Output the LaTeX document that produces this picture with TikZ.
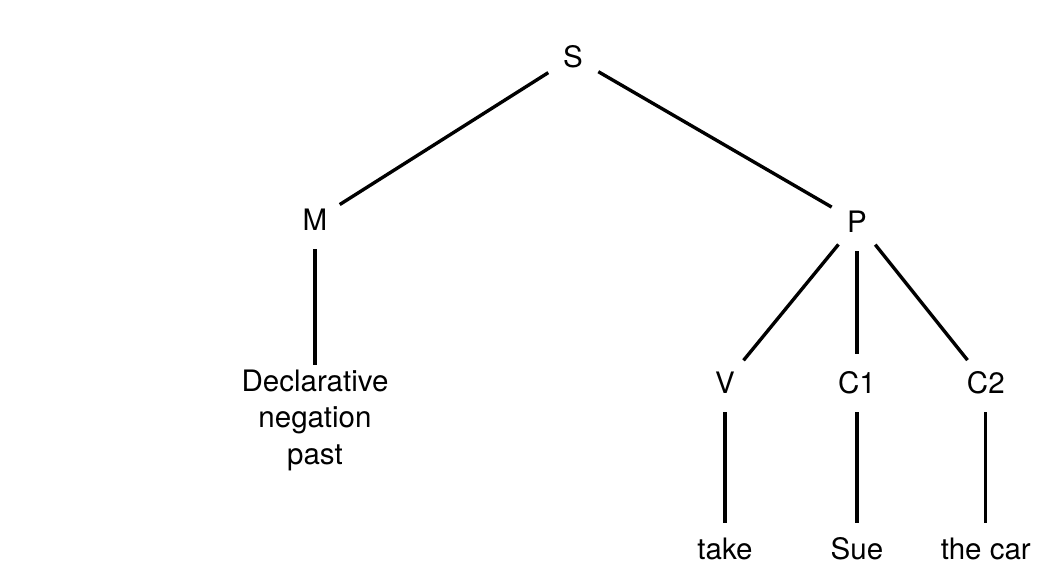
\documentclass[tikz,border=0pt]{standalone}
\usepackage{fontspec}
\setmainfont{TeX Gyre Heros}
\usetikzlibrary{positioning}

\begin{document}
\begin{tikzpicture}[on grid,
  sym/.style={
    circle, minimum size=1.45cm, inner sep=0pt,
    font=\fontsize{21}{26}\selectfont
  },
  word/.style={
    rectangle, inner xsep=2pt, inner ysep=0.36cm,
    text height=0.54cm, text depth=0pt,
    font=\fontsize{21}{26}\selectfont
  },
  feat/.style={
    rectangle, align=center, inner sep=3pt,
    font=\fontsize{21}{26}\selectfont
  },
  ln/.style={line width=2.4pt}
]
  \useasboundingbox (-14.325,-12.725) rectangle (12.05,1.425);

  \node[sym] (S) {S};
  \node[sym, below left=4.08cm and 6.45cm of S] (M) {M};
  \node[sym, below right=4.12cm and 7.1cm of S] (P) {P};

  \node[feat, below=5cm of M] (decl) {Declarative\\negation\\past};

  \node[sym, below left=4.03cm and 3.3cm of P] (V) {V};
  \node[sym, below=4.03cm of P] (C1) {C1};
  \node[sym, below right=4.03cm and 3.22cm of P] (C2) {C2};

  \node[word, below=4.13cm of V] (take) {take};
  \node[word, below=4.13cm of C1] (sue) {Sue};
  \node[word, below=4.13cm of C2] (car) {the car};

  \draw[ln] (S) -- (M);
  \draw[ln] (S) -- (P);
  \draw[ln] (M) -- (decl);
  \draw[ln] (P) -- (V);
  \draw[ln] (P) -- (C1);
  \draw[ln] (P) -- (C2);
  \draw[ln] (V) -- (take);
  \draw[ln] (C1) -- (sue);
  \draw[ln] (C2) -- (car);
\end{tikzpicture}
\end{document}
